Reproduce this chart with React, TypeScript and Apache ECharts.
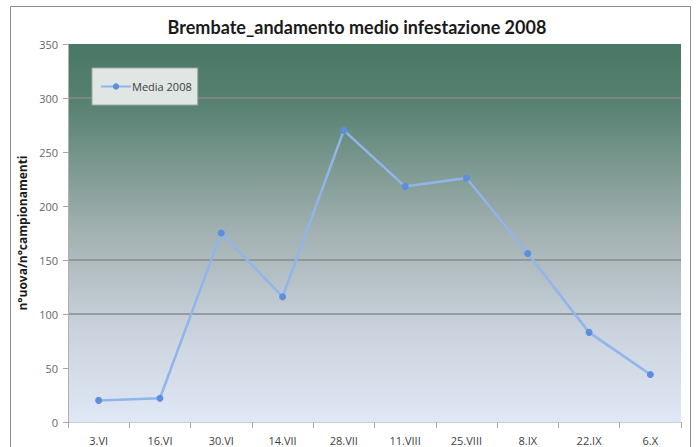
import React, { useEffect, useRef } from "react";
import * as echarts from "echarts";

const categories = ["3.VI", "16.VI", "30.VI", "14.VII", "28.VII", "11.VIII", "25.VIII", "8.IX", "22.IX", "6.X"];
const media2008 = [20, 22, 175, 116, 270, 218, 226, 156, 83, 44];
const seriesName = "Media 2008";
const titleText = "Brembate_andamento medio infestazione 2008";
const yAxisName = "n°uova/n°campionamenti";

export default function App() {
  const ref = useRef<HTMLDivElement>(null);
  useEffect(() => {
    if (!ref.current) return;
    const chart = echarts.init(ref.current, null, { renderer: "svg" });
    chart.setOption({
      animation: false,
      backgroundColor: "#ffffff",
      title: {
        text: titleText,
        left: 352,
        top: 13,
        textAlign: "center",
        textStyle: { fontFamily: "Lato", fontWeight: "bold", fontSize: 18, color: "#1a1a1a" },
      },
      graphic: [
        {
          type: "rect",
          shape: { x: 10.5, y: 6.5, width: 680, height: 460 },
          style: { fill: "none", stroke: "#8c8c8c", lineWidth: 1 },
          silent: true,
        },
      ],
      legend: {
        show: true,
        left: 92,
        top: 68,
        padding: [13, 6, 13, 8],
        backgroundColor: "#dfe6e3",
        borderColor: "#a0a8a5",
        borderWidth: 1,
        borderRadius: 0,
        itemWidth: 30,
        itemHeight: 8,
        itemGap: 0,
        data: [seriesName],
        textStyle: { fontFamily: "Open Sans", fontSize: 11, color: "#404040", padding: [0, 0, 0, -4] },
      },
      grid: {
        left: 68,
        right: 16,
        top: 44,
        bottom: 25,
        show: true,
        borderWidth: 0,
        backgroundColor: new echarts.graphic.LinearGradient(0, 0, 0, 1, [
          { offset: 0, color: "#4a7865" },
          { offset: 0.15, color: "#568070" },
          { offset: 0.5, color: "#a3b1b2" },
          { offset: 0.75, color: "#c9d2dc" },
          { offset: 1, color: "#e0e7f5" },
        ]),
      },
      xAxis: {
        type: "category",
        data: categories,
        boundaryGap: true,
        axisLine: { show: true, lineStyle: { color: "#c8ccd4", width: 1 } },
        axisTick: { show: true, length: 6, lineStyle: { color: "#a6a6a6" } },
        axisLabel: { margin: 13, fontFamily: "Open Sans", fontSize: 11, color: "#404040" },
        splitLine: { show: false },
      },
      yAxis: {
        type: "value",
        min: 0,
        max: 350,
        interval: 50,
        name: yAxisName,
        nameLocation: "middle",
        nameGap: 32,
        nameTextStyle: { fontFamily: "Open Sans", fontWeight: "bold", fontSize: 12, color: "#1a1a1a" },
        axisLine: { show: true, lineStyle: { color: "#b0b0b0", width: 1 } },
        axisTick: { show: true, length: 5, lineStyle: { color: "#a6a6a6" } },
        axisLabel: { margin: 10, fontFamily: "Open Sans", fontSize: 11, color: "#666666" },
        splitLine: {
          show: true,
          lineStyle: {
            width: 1.5,
            color: [
              "rgba(0,0,0,0)",
              "rgba(0,0,0,0)",
              "#8a8a8a",
              "#8a8a8a",
              "rgba(0,0,0,0)",
              "rgba(0,0,0,0)",
              "#8a8a8a",
              "rgba(0,0,0,0)",
            ],
          },
        },
      },
      series: [
        {
          name: seriesName,
          type: "line",
          data: media2008,
          symbol: "circle",
          symbolSize: 7,
          lineStyle: { color: "#8fb5ea", width: 2.5 },
          itemStyle: { color: "#5b8fde" },
        },
      ],
    });
    return () => chart.dispose();
  }, []);
  return <div ref={ref} style={{ position: "fixed", left: 0, top: 0, width: 697, height: 447 }} />;
}
